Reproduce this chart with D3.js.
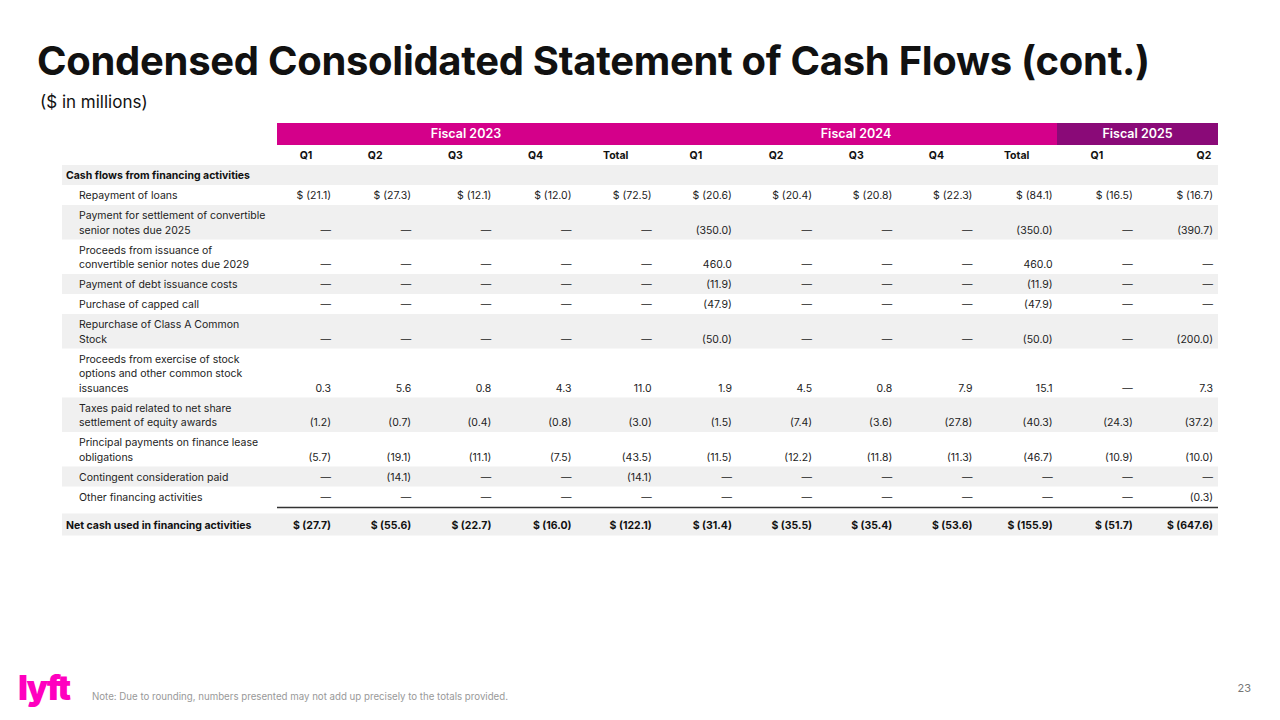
<!DOCTYPE html>
<html><head><meta charset="utf-8">
<script src="https://cdn.jsdelivr.net/npm/d3@7"></script>
<style>body{margin:0;background:#fff;font-family:Inter,"Noto Sans",sans-serif;}</style>
</head><body><svg id="chart" width="1280" height="720"></svg>
<script>
const fiscalYears = ['Fiscal 2023', 'Fiscal 2024', 'Fiscal 2025'];
const fiscalSpans = [5, 5, 2];
const columns = ['Q1', 'Q2', 'Q3', 'Q4', 'Total', 'Q1', 'Q2', 'Q3', 'Q4', 'Total', 'Q1', 'Q2'];
const rowLabels = [
  ['Repayment of loans'],
  ['Payment for settlement of convertible', 'senior notes due 2025'],
  ['Proceeds from issuance of', 'convertible senior notes due 2029'],
  ['Payment of debt issuance costs'],
  ['Purchase of capped call'],
  ['Repurchase of Class A Common', 'Stock'],
  ['Proceeds from exercise of stock', 'options and other common stock', 'issuances'],
  ['Taxes paid related to net share', 'settlement of equity awards'],
  ['Principal payments on finance lease', 'obligations'],
  ['Contingent consideration paid'],
  ['Other financing activities']
];
const D = '—';
const rowValues = [
  ['$ (21.1)', '$ (27.3)', '$ (12.1)', '$ (12.0)', '$ (72.5)', '$ (20.6)', '$ (20.4)', '$ (20.8)', '$ (22.3)', '$ (84.1)', '$ (16.5)', '$ (16.7)'],
  [D, D, D, D, D, '(350.0)', D, D, D, '(350.0)', D, '(390.7)'],
  [D, D, D, D, D, '460.0', D, D, D, '460.0', D, D],
  [D, D, D, D, D, '(11.9)', D, D, D, '(11.9)', D, D],
  [D, D, D, D, D, '(47.9)', D, D, D, '(47.9)', D, D],
  [D, D, D, D, D, '(50.0)', D, D, D, '(50.0)', D, '(200.0)'],
  ['0.3', '5.6', '0.8', '4.3', '11.0', '1.9', '4.5', '0.8', '7.9', '15.1', D, '7.3'],
  ['(1.2)', '(0.7)', '(0.4)', '(0.8)', '(3.0)', '(1.5)', '(7.4)', '(3.6)', '(27.8)', '(40.3)', '(24.3)', '(37.2)'],
  ['(5.7)', '(19.1)', '(11.1)', '(7.5)', '(43.5)', '(11.5)', '(12.2)', '(11.8)', '(11.3)', '(46.7)', '(10.9)', '(10.0)'],
  [D, '(14.1)', D, D, '(14.1)', D, D, D, D, D, D, D],
  [D, D, D, D, D, D, D, D, D, D, D, '(0.3)']
];
const totalLabel = 'Net cash used in financing activities';
const totalValues = ['$ (27.7)', '$ (55.6)', '$ (22.7)', '$ (16.0)', '$ (122.1)', '$ (31.4)', '$ (35.5)', '$ (35.4)', '$ (53.6)', '$ (155.9)', '$ (51.7)', '$ (647.6)'];

const svg = d3.select('#chart');
const left = 62, tableLeft = 277, right = 1218;
// right edge of each numeric column
const numX = d3.scalePoint().domain(d3.range(columns.length)).range([331, 1213]);
const grey = '#f0f0f0';
const bandEdges = [tableLeft, 655, 1057, right];

svg.append('text').attr('x', 37).attr('y', 75).attr('font-size', 40).attr('font-weight', 700)
  .attr('letter-spacing', -0.3).attr('fill', '#111').text('Condensed Consolidated Statement of Cash Flows (cont.)');
svg.append('text').attr('x', 40).attr('y', 108).attr('font-size', 17).attr('fill', '#111').text('($ in millions)');

// fiscal band
fiscalYears.forEach(function(fy, i) {
  const x0 = bandEdges[i], x1 = bandEdges[i + 1];
  svg.append('rect').attr('x', x0).attr('y', 123).attr('width', x1 - x0).attr('height', 22)
    .attr('fill', i === 2 ? '#8a0a78' : '#d4008a');
  svg.append('text').attr('x', (x0 + x1) / 2).attr('y', 138).attr('text-anchor', 'middle')
    .attr('font-size', 12.5).attr('font-weight', 600).attr('fill', '#fff').text(fy);
});

columns.forEach(function(c, i) {
  const off = i === 0 ? 25 : (i === columns.length - 1 ? 9 : 36);
  svg.append('text').attr('x', numX(i) - off).attr('y', 159)
    .attr('text-anchor', 'middle').attr('font-size', 10.5).attr('font-weight', 700).attr('fill', '#111').text(c);
});

let y = 165;
svg.append('rect').attr('x', left).attr('y', y).attr('width', right - left).attr('height', 20).attr('fill', grey);
svg.append('text').attr('x', 66).attr('y', y + 14).attr('font-size', 10.5).attr('font-weight', 700).attr('fill', '#111')
  .text('Cash flows from financing activities');
y += 20;

rowLabels.forEach(function(lines, r) {
  const h = 20 + (lines.length - 1) * 14.5;
  if (r % 2 === 1) svg.append('rect').attr('x', left).attr('y', y).attr('width', right - left).attr('height', h).attr('fill', grey);
  lines.forEach(function(l, k) {
    svg.append('text').attr('x', 79).attr('y', y + 14 + k * 14.5).attr('font-size', 10.5).attr('fill', '#222').text(l);
  });
  rowValues[r].forEach(function(v, i) {
    svg.append('text').attr('x', numX(i)).attr('y', y + h - 6).attr('text-anchor', 'end')
      .attr('font-size', 10.5).attr('fill', '#222').text(v);
  });
  y += h;
});

svg.append('line').attr('x1', tableLeft).attr('x2', right).attr('y1', y + 1).attr('y2', y + 1).attr('stroke', '#333').attr('stroke-width', 1.5);
y += 7;
svg.append('rect').attr('x', left).attr('y', y).attr('width', right - left).attr('height', 22).attr('fill', grey);
svg.append('text').attr('x', 66).attr('y', y + 15).attr('font-size', 10.5).attr('font-weight', 700).attr('fill', '#111').text(totalLabel);
totalValues.forEach(function(v, i) {
  svg.append('text').attr('x', numX(i)).attr('y', y + 15).attr('text-anchor', 'end')
    .attr('font-size', 10.5).attr('font-weight', 700).attr('fill', '#111').text(v);
});

// footer
svg.append('text').attr('x', 18).attr('y', 700).attr('font-size', 34).attr('font-weight', 900)
  .attr('letter-spacing', -2).attr('fill', '#ff00bf').text('lyft');
svg.append('text').attr('x', 92).attr('y', 700).attr('font-size', 9.7).attr('fill', '#999')
  .text('Note: Due to rounding, numbers presented may not add up precisely to the totals provided.');
svg.append('text').attr('x', 1251).attr('y', 692).attr('text-anchor', 'end').attr('font-size', 11).attr('fill', '#777').text('23');
</script></body></html>
